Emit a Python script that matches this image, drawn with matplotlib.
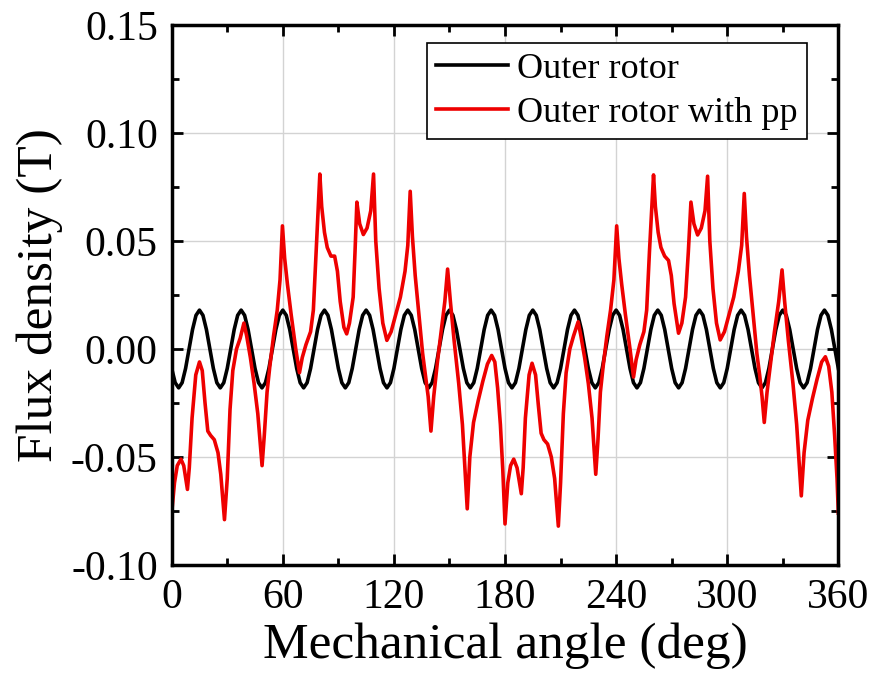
import numpy as np
import matplotlib
matplotlib.use('Agg')
import matplotlib.pyplot as plt
from matplotlib.ticker import MultipleLocator, FormatStrFormatter

plt.rcParams['font.family'] = ['Liberation Serif', 'DejaVu Serif']
plt.rcParams['axes.unicode_minus'] = False

# 外转子（无 pp），每 1.875 度读一个点
outer_angle = np.linspace(0, 360, 193)
outer_flux = [
    -0.009, -0.0156, -0.018, -0.0156, -0.009, 0.0, 0.009, 0.0156, 0.018, 0.0156, 0.009, 0.0,
    -0.009, -0.0156, -0.018, -0.0156, -0.009, 0.0, 0.009, 0.0156, 0.018, 0.0156, 0.009, 0.0,
    -0.009, -0.0156, -0.018, -0.0156, -0.009, 0.0, 0.009, 0.0156, 0.018, 0.0156, 0.009, 0.0,
    -0.009, -0.0156, -0.018, -0.0156, -0.009, 0.0, 0.009, 0.0156, 0.018, 0.0156, 0.009, 0.0,
    -0.009, -0.0156, -0.018, -0.0156, -0.009, 0.0, 0.009, 0.0156, 0.018, 0.0156, 0.009, 0.0,
    -0.009, -0.0156, -0.018, -0.0156, -0.009, 0.0, 0.009, 0.0156, 0.018, 0.0156, 0.009, 0.0,
    -0.009, -0.0156, -0.018, -0.0156, -0.009, 0.0, 0.009, 0.0156, 0.018, 0.0156, 0.009, 0.0,
    -0.009, -0.0156, -0.018, -0.0156, -0.009, 0.0, 0.009, 0.0156, 0.018, 0.0156, 0.009, 0.0,
    -0.009, -0.0156, -0.018, -0.0156, -0.009, 0.0, 0.009, 0.0156, 0.018, 0.0156, 0.009, 0.0,
    -0.009, -0.0156, -0.018, -0.0156, -0.009, 0.0, 0.009, 0.0156, 0.018, 0.0156, 0.009, 0.0,
    -0.009, -0.0156, -0.018, -0.0156, -0.009, 0.0, 0.009, 0.0156, 0.018, 0.0156, 0.009, 0.0,
    -0.009, -0.0156, -0.018, -0.0156, -0.009, 0.0, 0.009, 0.0156, 0.018, 0.0156, 0.009, 0.0,
    -0.009, -0.0156, -0.018, -0.0156, -0.009, 0.0, 0.009, 0.0156, 0.018, 0.0156, 0.009, 0.0,
    -0.009, -0.0156, -0.018, -0.0156, -0.009, 0.0, 0.009, 0.0156, 0.018, 0.0156, 0.009, 0.0,
    -0.009, -0.0156, -0.018, -0.0156, -0.009, 0.0, 0.009, 0.0156, 0.018, 0.0156, 0.009, 0.0,
    -0.009, -0.0156, -0.018, -0.0156, -0.009, 0.0, 0.009, 0.0156, 0.018, 0.0156, 0.009, 0.0,
    -0.009,
]

# 外转子 with pp
pp_angle = [
    0, 1.5, 3, 5, 6.5, 8.5, 9.5, 11, 13, 15, 16.5, 18, 19.5, 21, 23, 25, 26.5, 28.5, 30,
    31.5, 33, 35, 37, 39, 40.5, 42.5, 44.5, 46.5, 48.8, 50, 51.5, 53, 55, 57, 58.5, 59.8,
    61, 62.5, 64.5, 67, 69, 70.5, 72.5, 75, 76.5, 78, 80, 81, 82.5, 84, 86, 88, 89.5, 91,
    93, 94.5, 96, 98, 99, 100, 101.5, 103.5, 105.5, 107.5, 109, 110.2, 112, 114, 116.2,
    118.5, 121, 123.5, 126, 127.5, 128.8, 130, 131.5, 133.5, 135.5, 137, 138.5, 140,
    141.5, 143.5, 145.5, 147.5, 149, 150.5, 152.5, 155, 157, 159.6, 161, 163, 165.5, 168,
    170.5, 172.8, 174.5, 176, 177.5, 178.8, 180,
    181.5, 183, 184.7, 186.5, 188.8, 189.8, 191, 193, 194.6, 196.5, 198, 199.5, 201, 203,
    205, 206.8, 208.8, 210, 211.5, 213, 215, 217, 219.5, 221, 223, 225, 227, 229, 230.2,
    231.5, 233, 235, 237, 238.8, 240.3, 241.5, 243, 245, 247.5, 249.4, 250.8, 252.8, 255,
    256.5, 258, 260.2, 261.2, 262.7, 264.2, 266.2, 268.3, 269.8, 271.3, 273.7, 275.5,
    277.5, 279, 280.4, 282, 284, 286, 288, 289.4, 290.6, 292.3, 294.2, 296.2, 298.5, 301,
    303.5, 306, 307.8, 309.2, 310.4, 312, 314, 316, 317.5, 318.8, 320, 321.5, 323.5,
    325.5, 327.8, 329.6, 331, 333, 335.5, 337.5, 340, 341.5, 343.5, 346, 348.5, 351, 353,
    354.8, 356.5, 358, 359.3, 360,
]
pp_flux = [
    -0.076, -0.062, -0.054, -0.051, -0.054, -0.065, -0.055, -0.032, -0.012, -0.006, -0.010,
    -0.025, -0.038, -0.040, -0.042, -0.048, -0.058, -0.079, -0.060,
    -0.028, -0.010, 0.000, 0.005, 0.012, 0.006, -0.004, -0.016, -0.030, -0.054, -0.040,
    -0.020, -0.008, 0.006, 0.018, 0.032, 0.057,
    0.042, 0.030, 0.016, 0.000, -0.011, -0.004, 0.002, 0.008, 0.018, 0.045, 0.081, 0.066,
    0.054, 0.047, 0.043, 0.043, 0.036, 0.022,
    0.010, 0.007, 0.012, 0.024, 0.045, 0.068, 0.058, 0.053, 0.056, 0.064, 0.081, 0.050,
    0.028, 0.012, 0.004,
    0.008, 0.016, 0.024, 0.036, 0.048, 0.073, 0.052, 0.034, 0.016, -0.002, -0.012, -0.022,
    -0.038,
    -0.022, -0.006, 0.008, 0.022, 0.037, 0.022, 0.004, -0.016, -0.035, -0.074, -0.050,
    -0.034, -0.024, -0.015,
    -0.007, -0.003, -0.006, -0.018, -0.035, -0.056, -0.081,
    -0.062, -0.054, -0.051, -0.055, -0.067, -0.055, -0.032, -0.012, -0.0066, -0.012,
    -0.026, -0.039, -0.042, -0.044,
    -0.050, -0.060, -0.082, -0.062, -0.030, -0.011, 0.000, 0.006, 0.0126, 0.006, -0.004,
    -0.016, -0.032, -0.058, -0.042,
    -0.020, -0.008, 0.006, 0.018, 0.032, 0.057, 0.042, 0.030, 0.016, 0.000, -0.013,
    -0.005, 0.002, 0.008,
    0.018, 0.045, 0.0806, 0.066, 0.054, 0.047, 0.043, 0.041, 0.034, 0.021, 0.0073, 0.012,
    0.024, 0.045, 0.068, 0.058, 0.0528, 0.056, 0.064, 0.080, 0.050, 0.028, 0.012, 0.0042,
    0.008, 0.016,
    0.024, 0.036, 0.048, 0.072, 0.052, 0.034, 0.016, -0.002, -0.012, -0.022, -0.034,
    -0.020, -0.006,
    0.008, 0.022, 0.0366, 0.022, 0.004, -0.016, -0.035, -0.068, -0.048, -0.033, -0.023,
    -0.014, -0.006, -0.0036,
    -0.008, -0.020, -0.040, -0.060, -0.076,
]

fig = plt.figure(figsize=(8.76, 6.87), dpi=100)
ax = fig.add_axes([0.196, 0.1776, 0.761, 0.786])

ax.plot(outer_angle, outer_flux, color='black', lw=2.6, label='Outer rotor')
ax.plot(pp_angle, pp_flux, color='#ee0000', lw=2.6, label='Outer rotor with pp')

ax.set_xlim(0, 360)
ax.set_ylim(-0.10, 0.15)
ax.xaxis.set_major_locator(MultipleLocator(60))
ax.xaxis.set_minor_locator(MultipleLocator(30))
ax.yaxis.set_major_locator(MultipleLocator(0.05))
ax.yaxis.set_minor_locator(MultipleLocator(0.025))
ax.yaxis.set_major_formatter(FormatStrFormatter('%.2f'))

ax.grid(True, which='major', color='#d3d3d3', lw=1.0)
ax.set_axisbelow(True)

ax.tick_params(which='both', direction='in', top=True, right=True, width=2)
ax.tick_params(which='major', length=8, labelsize=30, pad=10)
ax.tick_params(which='minor', length=5)
for s in ax.spines.values():
    s.set_linewidth(2.5)

ax.set_xlabel('Mechanical angle (deg)', fontsize=37, labelpad=4)
ax.set_ylabel('Flux density (T)', fontsize=37, labelpad=6)

# 图例：方框、黑边
leg = ax.legend(loc='upper right', bbox_to_anchor=(0.953, 0.966), borderaxespad=0,
                fontsize=26, fancybox=False, framealpha=1, edgecolor='black',
                handlelength=2.0, handletextpad=0.25, borderpad=0.25, labelspacing=0.3)
leg.get_frame().set_linewidth(1.2)

plt.savefig('out.png', dpi=100)
